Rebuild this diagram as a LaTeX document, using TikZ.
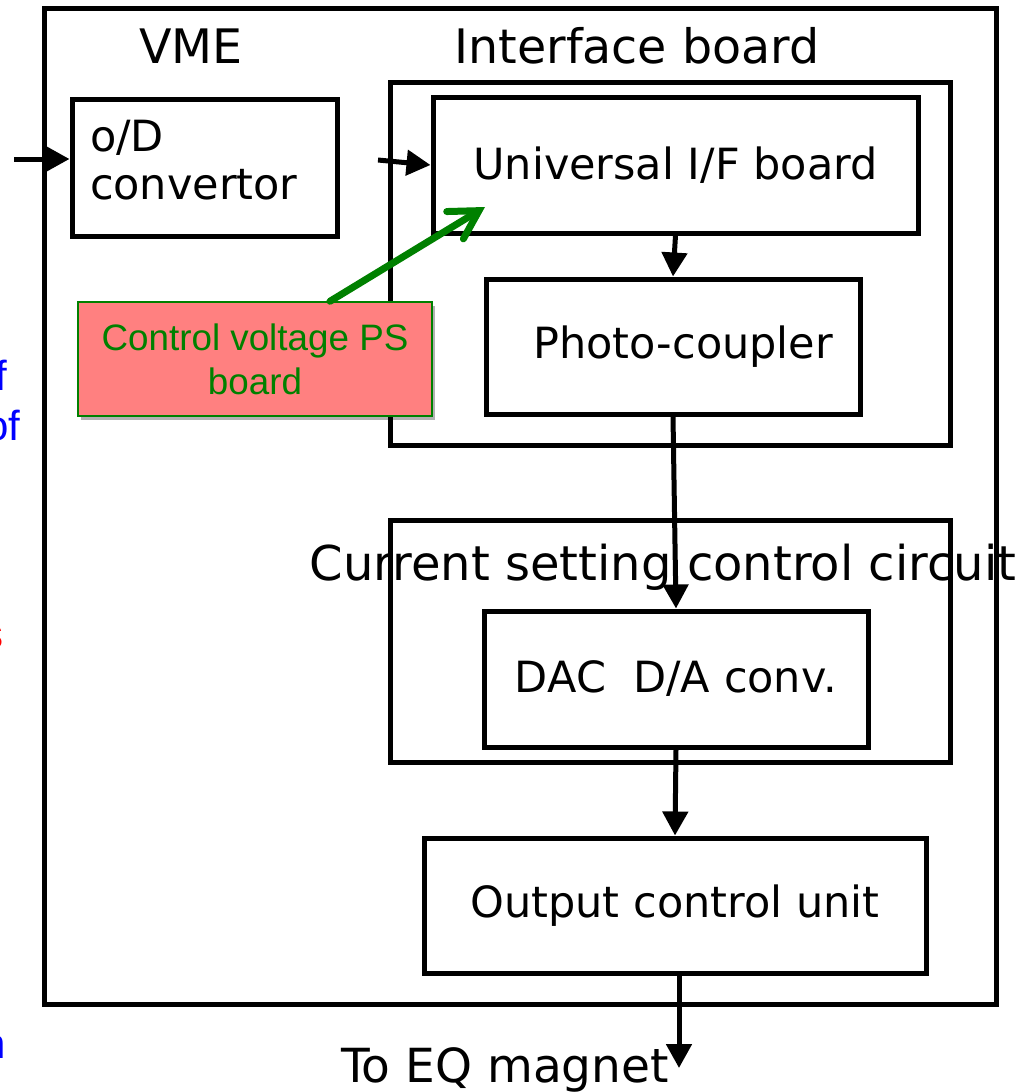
\documentclass[tikz,border=0pt]{standalone}
\usepackage{fontspec}
\setmainfont{DejaVu Sans}
\newfontfamily\arialfont{Liberation Sans}
\usetikzlibrary{arrows.meta,shadows}

\definecolor{psfill}{RGB}{255,128,128}
\definecolor{psgreen}{RGB}{0,128,0}

\newcommand{\boxfont}{\fontsize{21.5}{24}\selectfont}
\newcommand{\titlefont}{\fontsize{23.75}{28}\selectfont}
\newcommand{\psfont}{\arialfont\fontsize{18.4}{22}\selectfont}
\newcommand{\sidefont}{\arialfont\fontsize{21}{24}\selectfont}

\begin{document}
\begin{tikzpicture}[
    x=0.5pt, y=-0.5pt,
    outerbox/.style={draw, line width=2.5pt, inner sep=0pt},
    unitbox/.style={draw, line width=2.5pt, inner sep=0pt, font=\boxfont},
    boardtitle/.style={anchor=base, inner sep=0pt, font=\titlefont},
    psbox/.style={
        draw=psgreen,
        line width=0.75pt,
        fill=psfill,
        text=psgreen,
        align=center,
        inner sep=0pt,
        font=\psfont,
        drop shadow={shadow xshift=1.5pt, shadow yshift=-2pt, fill=black, opacity=0.3}
    },
    flowarrow/.style={line width=2.5pt, -{Triangle[length=12pt,width=12.5pt]}},
    psarrow/.style={draw=psgreen, line width=3.5pt, line cap=round,
        -{Straight Barb[length=14pt,width=16pt,line cap=round]}},
    sidetext/.style={anchor=base east, inner sep=0pt, font=\sidefont}
]
\useasboundingbox (0,0) rectangle (1022,1092);
\clip (0,0) rectangle (1022,1092);

% ---------- outer frames ----------
\node[outerbox, minimum width=476pt, minimum height=498pt] (vme) at (520,506) {};
\node[outerbox, minimum width=280pt, minimum height=181.5pt] (ifb) at (670,263.5) {};
\node[outerbox, minimum width=280pt, minimum height=121pt] (csc) at (670,641) {};

% ---------- titles ----------
\node[boardtitle] (vmetitle) at (191,63) {VME};
\node[boardtitle] (ifbtitle) at (637,63) {Interface board};
\node[boardtitle, font=\fontsize{24}{28}\selectfont] (csctitle) at (663,580) {Current setting control circuit};
\node[boardtitle, font=\fontsize{23.5}{28}\selectfont] (eqtitle) at (505,1082) {To EQ magnet};

% ---------- units ----------
\node[unitbox, text width=114.5pt, inner xsep=9pt, align=left, text depth=31.5pt,
      minimum height=68.5pt] (odc) at (204.5,167.5) {o/D\\convertor};
\node[unitbox, minimum width=242.5pt, minimum height=68pt] (univ) at (675.5,165) {Universal I/F board};
\node[unitbox, text width=160pt, inner xsep=13.5pt, align=right,
      minimum height=67.5pt] (photo) at (673,346.5) {Photo-coupler};
\node[unitbox, minimum width=192pt, minimum height=68pt] (dac) at (676,679) {DAC\ \ D/A conv.};
\node[unitbox, minimum width=251pt, minimum height=67.5pt] (out) at (675,905.5) {Output control unit};

% ---------- PS board ----------
\node[psbox, minimum width=177pt, minimum height=57pt] (cvps) at (255,359) {Control voltage PS\\board};

% ---------- side texts (cut at the left edge) ----------
\node[sidetext, text=blue] (frag1) at (8,390) {f};
\node[sidetext, text=blue] (frag2) at (21,440) {of};
\node[sidetext, text=red] (frag3) at (4,648) {s};
\node[sidetext, text=blue] (frag4) at (6,1058) {n};

% ---------- connectors ----------
\coordinate (vmein) at (14,159);
\coordinate (univin) at (378,160);
\coordinate (pstip) at (485,207);
\coordinate (eq) at (679,1068);

\draw[flowarrow] (vmein) -- (vmein -| odc.west);
\draw[flowarrow] (univin) -- (univ.west);
\draw[flowarrow] (univ.south) -- (photo.north);
\draw[flowarrow] (photo.south) -- (dac.north);
\draw[flowarrow] (dac.south) -- (out.north);
\draw[flowarrow] (out.south -| eq) -- (eq);
\draw[psarrow] ([xshift=37.5pt]cvps.north) -- (pstip);

\end{tikzpicture}
\end{document}
